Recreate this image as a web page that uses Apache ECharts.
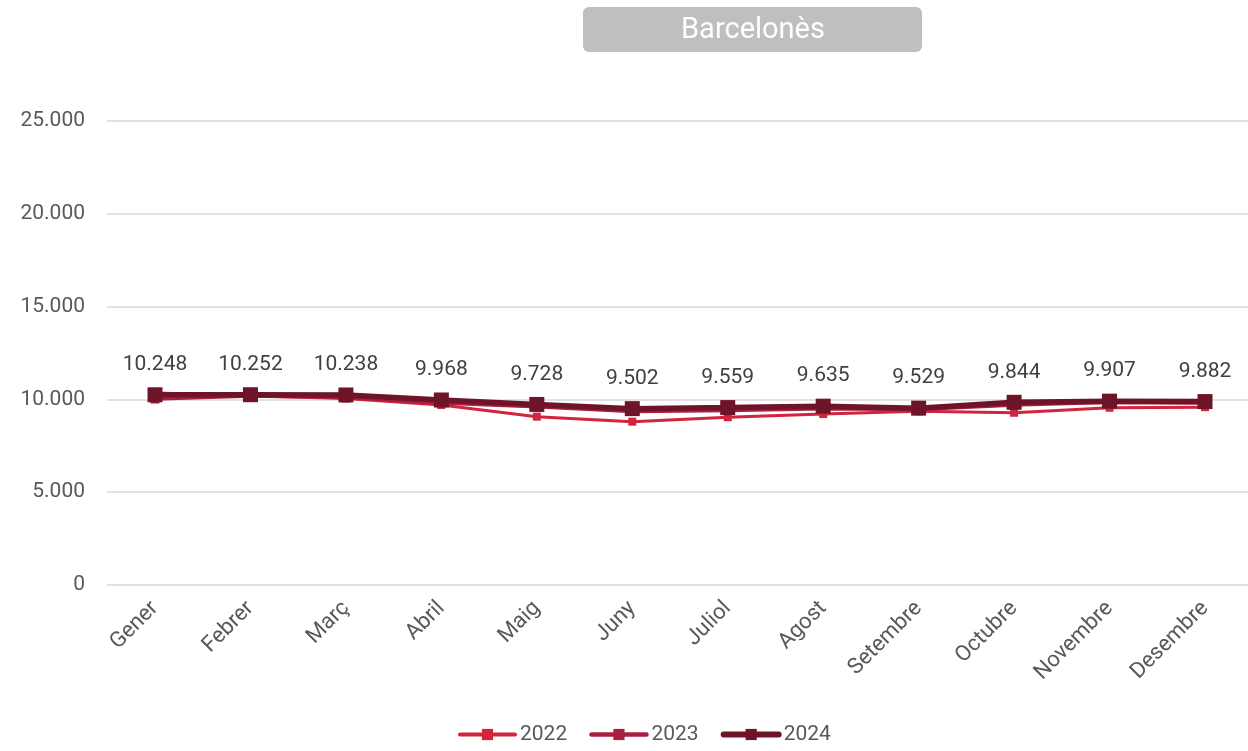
<!DOCTYPE html>
<html><head><meta charset="utf-8">
<script src="https://cdn.jsdelivr.net/npm/echarts@6/dist/echarts.min.js"></script>
<style>html,body{margin:0;padding:0;background:#fff}#c{width:1248px;height:751px}</style>
</head><body><div id="c"></div>
<script>
const categories = ['Gener','Febrer','Març','Abril','Maig','Juny','Juliol','Agost','Setembre','Octubre','Novembre','Desembre'];
const s2022 = [10350, 10200, 10050, 9700, 9070, 8800, 9040, 9210, 9360, 9280, 9550, 9580];
const s2023 = [10020, 10180, 10100, 9800, 9600, 9350, 9400, 9500, 9450, 9700, 9850, 9800];
const s2024 = [10248, 10252, 10238, 9968, 9728, 9502, 9559, 9635, 9529, 9844, 9907, 9882];
const yTicks = [0, 5000, 10000, 15000, 20000, 25000];
const fmt = v => v === 0 ? '0' : v.toLocaleString('de-DE');
const FONT = 'Roboto';
const C22 = '#d2243d', C23 = '#a81f40', C24 = '#6e1428';
const chart = echarts.init(document.getElementById('c'));
chart.setOption({
  animation: false,
  textStyle: {fontFamily: FONT},
  graphic: [
    {type: 'rect', x: 583, y: 7, shape: {x: 0, y: 0, width: 339, height: 45, r: 6}, style: {fill: '#bfbfbf'}},
    {type: 'text', x: 753, y: 31, style: {text: 'Barcelonès', fill: '#fff', font: '29px Roboto', textAlign: 'center', textVerticalAlign: 'middle'}}
  ],
  legend: {
    bottom: 1, left: 453, itemWidth: 55, itemHeight: 14, itemGap: 22,
    textStyle: {fontSize: 21, color: '#595959', fontFamily: FONT},
    data: [
      {name: '2022', lineStyle: {width: 4, cap: 'round'}},
      {name: '2023', lineStyle: {width: 4.5, cap: 'round'}},
      {name: '2024', lineStyle: {width: 6, cap: 'round'}}
    ]
  },
  grid: [
    {left: 107, right: 0, top: 121, bottom: 166, containLabel: false},
    {left: 155, right: 43, top: 121, bottom: 166, containLabel: false}
  ],
  xAxis: [
    {type: 'category', gridIndex: 0, data: categories, show: false},
    {
      type: 'category', gridIndex: 1, data: categories, boundaryGap: false,
      axisLine: {show: false}, axisTick: {show: false}, splitLine: {show: false},
      axisLabel: {rotate: 45, fontSize: 22, color: '#595959', margin: 20, interval: 0}
    }
  ],
  yAxis: [
    {
      type: 'value', gridIndex: 0, min: 0, max: 25000, interval: 5000,
      axisLine: {show: false}, axisTick: {show: false},
      splitLine: {lineStyle: {color: '#d9d9d9', width: 1.5}},
      axisLabel: {fontSize: 21, color: '#595959', margin: 22, formatter: v => yTicks.includes(v) ? fmt(v) : ''}
    },
    {
      type: 'value', gridIndex: 1, min: 0, max: 25000, interval: 5000,
      axisLine: {show: false}, axisTick: {show: false}, splitLine: {show: false}, axisLabel: {show: false}
    }
  ],
  series: [
    {name: '2022', type: 'line', xAxisIndex: 1, yAxisIndex: 1, data: s2022, symbol: 'rect', symbolSize: 8,
      lineStyle: {color: C22, width: 3}, itemStyle: {color: C22}, z: 2},
    {name: '2023', type: 'line', xAxisIndex: 1, yAxisIndex: 1, data: s2023, symbol: 'rect', symbolSize: 9,
      lineStyle: {color: C23, width: 3.5}, itemStyle: {color: C23}, z: 3},
    {name: '2024', type: 'line', xAxisIndex: 1, yAxisIndex: 1, data: s2024, symbol: 'rect', symbolSize: 15,
      lineStyle: {color: C24, width: 5.5}, itemStyle: {color: C24}, z: 4,
      label: {show: true, position: 'top', distance: 12, fontSize: 21, color: '#404040', formatter: p => fmt(p.value)}}
  ]
});
</script></body></html>
